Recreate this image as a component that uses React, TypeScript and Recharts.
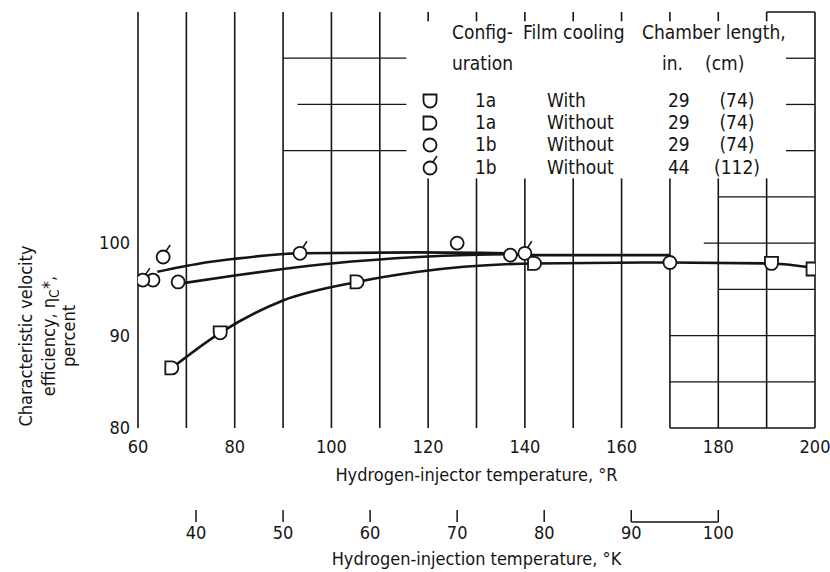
import React from 'react';
import {
  ComposedChart,
  Line,
  Scatter,
  XAxis,
  YAxis,
  ReferenceLine
} from 'recharts';

const FONT = "'Liberation Sans Narrow', 'DejaVu Sans Condensed', 'Arial Narrow', sans-serif";
const INK = '#151515';
const R_PER_K = 1.8;

// axis values
const rDomain = [60, 200];
const yDomain = [80, 125];
const rTicks = [60, 80, 100, 120, 140, 160, 180, 200];
const yTicks = [80, 90, 100];
const kTicks = [40, 50, 60, 70, 80, 90, 100];

// faired curves
const curveTop = [
  { x: 64, y: 96.9 },
  { x: 72.8, y: 97.8 },
  { x: 80, y: 98.3 },
  { x: 93.5, y: 98.9 },
  { x: 118, y: 99.0 },
  { x: 137, y: 98.9 }
];
const curveMid = [
  { x: 69.7, y: 95.7 },
  { x: 80, y: 96.5 },
  { x: 90, y: 97.2 },
  { x: 100, y: 97.8 },
  { x: 118, y: 98.5 },
  { x: 137, y: 98.8 },
  { x: 141, y: 98.7 },
  { x: 170, y: 98.7 }
];
const curveLow = [
  { x: 67, y: 86.5 },
  { x: 77, y: 90.3 },
  { x: 90, y: 93.8 },
  { x: 105.3, y: 95.8 },
  { x: 118, y: 96.9 },
  { x: 142, y: 97.8 },
  { x: 170, y: 97.9 },
  { x: 191, y: 97.8 },
  { x: 200, y: 97.3 }
];

// data points
const cfg1aWith = [
  { x: 77, y: 90.3 },
  { x: 191, y: 97.8 }
];
const cfg1aWithout = [
  { x: 67, y: 86.5 },
  { x: 105.3, y: 95.8 },
  { x: 142, y: 97.8 },
  { x: 199.6, y: 97.2 }
];
const cfg1b29 = [
  { x: 63.1, y: 96.0 },
  { x: 68.3, y: 95.8 },
  { x: 126, y: 100.0 },
  { x: 137, y: 98.7 },
  { x: 170, y: 97.9 }
];
const cfg1b44 = [
  { x: 61, y: 96.0 },
  { x: 65.2, y: 98.5 },
  { x: 93.5, y: 98.9 },
  { x: 140, y: 98.9 }
];

// grid of the original sheet (partly broken by the key)
const fullVerticals = [60, 70, 80, 90, 100, 110, 200];
const brokenVerticals = [120, 130, 140, 150, 160, 170, 180, 190];
const keyGap = [107, 124];
const hSegments: [number, number, number][] = [
  [120, 90, 115.5],
  [115, 93, 115.5],
  [110, 90, 115.5],
  [120, 194, 200],
  [115, 194, 200],
  [110, 194, 200],
  [105, 180, 200],
  [100, 177, 200],
  [95, 180, 200],
  [90, 170, 200],
  [85, 170, 200],
  [80, 170, 200],
  [125, 190, 200]
];

const keyRows = [
  { mark: 'U', config: '1a', film: 'With', inch: '29', cm: '(74)' },
  { mark: 'D', config: '1a', film: 'Without', inch: '29', cm: '(74)' },
  { mark: 'O', config: '1b', film: 'Without', inch: '29', cm: '(74)' },
  { mark: 'Q', config: '1b', film: 'Without', inch: '44', cm: '(112)' }
];

const W = 830;
const H = 572;
const margin = { top: 12, right: 15, bottom: 0, left: 0 };
const Y_AXIS_W = 138;
const plotW = W - margin.left - margin.right - Y_AXIS_W;
const kPerPx = plotW / ((rDomain[1] - rDomain[0]) / R_PER_K);

// kelvin scale anchors, so the second axis has something to scale on
const kAnchors = kTicks.map((k) => ({ k, y: yDomain[0] }));

const R = 6.5;
const Circ = ({ cx, cy }: any) => (
  <circle cx={cx} cy={cy} r={R} fill="#fff" stroke={INK} strokeWidth={1.8} />
);
const Tailed = ({ cx, cy }: any) => (
  <g>
    <circle cx={cx} cy={cy} r={R} fill="#fff" stroke={INK} strokeWidth={1.8} />
    <line x1={cx + 3} y1={cy - 6} x2={cx + 7} y2={cy - 12} stroke={INK} strokeWidth={1.5} />
  </g>
);
const DMark = ({ cx, cy }: any) => (
  <path
    d={`M${cx - R},${cy - R} H${cx} A${R},${R} 0 0 1 ${cx},${cy + R} H${cx - R} Z`}
    fill="#fff"
    stroke={INK}
    strokeWidth={1.8}
  />
);
const UMark = ({ cx, cy }: any) => (
  <path
    d={`M${cx - R},${cy - R} H${cx + R} V${cy} A${R},${R} 0 0 1 ${cx - R},${cy} Z`}
    fill="#fff"
    stroke={INK}
    strokeWidth={1.8}
  />
);

const markFor: Record<string, (p: any) => React.ReactElement> = {
  U: UMark,
  D: DMark,
  O: Circ,
  Q: Tailed
};

const RTick = ({ x, y, payload }: any) => (
  <text x={x} y={y + 25} textAnchor="middle" fontFamily={FONT} fontSize={18} fill={INK}>
    {payload.value}
  </text>
);

const KTick = ({ x, y, payload }: any) => (
  <g>
    <line x1={x} x2={x} y1={y + 10} y2={y + 22} stroke={INK} strokeWidth={1.5} />
    {payload.value === 90 && (
      <line x1={x} x2={x + 10 * kPerPx} y1={y + 22} y2={y + 22} stroke={INK} strokeWidth={1.5} />
    )}
    <text x={x} y={y + 39} textAnchor="middle" fontFamily={FONT} fontSize={18} fill={INK}>
      {payload.value}
    </text>
  </g>
);

const YTick = ({ x, y, payload }: any) => (
  <text x={x} y={y + 6} textAnchor="end" fontFamily={FONT} fontSize={18} fill={INK}>
    {payload.value}
  </text>
);

const YTitle = () => (
  <g fontFamily={FONT} fontSize={18} fill={INK} textAnchor="middle">
    <text transform="translate(32,336) rotate(-90)">Characteristic velocity</text>
    <text transform="translate(55,336) rotate(-90)">
      efficiency, η
      <tspan fontSize={14} dy={4}>C</tspan>
      <tspan dy={-4}>*,</tspan>
    </text>
    <text transform="translate(75,336) rotate(-90)">percent</text>
  </g>
);

const axisTitle = (text: string, dy: number) => (props: any) => {
  const vb = props.viewBox;
  return (
    <text
      x={vb.x + vb.width / 2}
      y={vb.y + dy}
      textAnchor="middle"
      fontFamily={FONT}
      fontSize={18}
      fill={INK}
    >
      {text}
    </text>
  );
};

const gridLine = { stroke: INK, strokeWidth: 1.6, ifOverflow: 'visible' as const };
const curveStyle = { stroke: INK, strokeWidth: 2.6, dot: false, isAnimationActive: false };

const keyText: React.CSSProperties = {
  position: 'absolute',
  fontFamily: FONT,
  fontSize: 19,
  color: INK,
  lineHeight: 1,
  whiteSpace: 'nowrap',
  transform: 'translateY(-50%)'
};

function Key() {
  const rowY = [100, 122, 144, 167];
  return (
    <>
      <span style={{ ...keyText, left: 452, top: 32 }}>Config-</span>
      <span style={{ ...keyText, left: 452, top: 63 }}>uration</span>
      <span style={{ ...keyText, left: 523, top: 32 }}>Film cooling</span>
      <span style={{ ...keyText, left: 642, top: 32 }}>Chamber length,</span>
      <span style={{ ...keyText, left: 662, top: 63 }}>in.</span>
      <span style={{ ...keyText, left: 705, top: 63 }}>(cm)</span>
      {keyRows.map((row, i) => {
        const Mark = markFor[row.mark];
        return (
          <React.Fragment key={i}>
            <svg
              width={24}
              height={30}
              style={{ position: 'absolute', left: 418, top: rowY[i] - 15 }}
            >
              <Mark cx={12} cy={16} />
            </svg>
            <span style={{ ...keyText, left: 475, top: rowY[i] }}>{row.config}</span>
            <span style={{ ...keyText, left: 547, top: rowY[i] }}>{row.film}</span>
            <span style={{ ...keyText, left: 668, top: rowY[i] }}>{row.inch}</span>
            <span style={{ ...keyText, left: 737, top: rowY[i], transform: 'translate(-50%,-50%)' }}>
              {row.cm}
            </span>
          </React.Fragment>
        );
      })}
    </>
  );
}

export default function App() {
  return (
    <div style={{ position: 'absolute', left: 0, top: 0, width: W, height: H, background: '#fff' }}>
      <ComposedChart width={W} height={H} margin={margin}>
        <XAxis
          xAxisId={0}
          dataKey="x"
          type="number"
          domain={rDomain}
          ticks={rTicks}
          interval={0}
          allowDataOverflow
          axisLine={false}
          tickLine={false}
          tickSize={0}
          tickMargin={0}
          height={72}
          tick={(p: any) => <RTick {...p} />}
          label={{ content: axisTitle('Hydrogen-injector temperature, °R', 53) }}
        />
        <XAxis
          xAxisId={1}
          dataKey="k"
          type="number"
          domain={[rDomain[0] / R_PER_K, rDomain[1] / R_PER_K]}
          ticks={kTicks}
          interval={0}
          allowDataOverflow
          axisLine={false}
          tickLine={false}
          tickSize={0}
          tickMargin={0}
          height={72}
          tick={(p: any) => <KTick {...p} />}
          label={{ content: axisTitle('Hydrogen-injection temperature, °K', 65) }}
        />
        <YAxis
          type="number"
          domain={yDomain}
          ticks={yTicks}
          interval={0}
          allowDataOverflow
          axisLine={false}
          tickLine={false}
          width={Y_AXIS_W}
          tick={(p: any) => <YTick {...p} />}
          label={{ content: () => <YTitle /> }}
        />

        {fullVerticals.map((v) => (
          <ReferenceLine key={'fv' + v} xAxisId={0} x={v} {...gridLine} />
        ))}
        {brokenVerticals.map((v) => (
          <ReferenceLine
            key={'bv' + v}
            xAxisId={0}
            segment={[{ x: v, y: yDomain[0] }, { x: v, y: keyGap[0] }]}
            {...gridLine}
          />
        ))}
        {brokenVerticals.map((v) => (
          <ReferenceLine
            key={'bt' + v}
            xAxisId={0}
            segment={[{ x: v, y: keyGap[1] }, { x: v, y: yDomain[1] }]}
            {...gridLine}
          />
        ))}
        {hSegments.map(([y, a, b], i) => (
          <ReferenceLine
            key={'h' + i}
            xAxisId={0}
            segment={[{ x: a, y }, { x: b, y }]}
            stroke={INK}
            strokeWidth={1.3}
            ifOverflow="visible"
          />
        ))}

        <Line xAxisId={0} data={curveTop} dataKey="y" type="monotone" {...curveStyle} />
        <Line xAxisId={0} data={curveMid} dataKey="y" type="monotone" {...curveStyle} />
        <Line xAxisId={0} data={curveLow} dataKey="y" type="monotone" {...curveStyle} />

        <Scatter xAxisId={1} data={kAnchors} dataKey="y" shape={() => <g />} isAnimationActive={false} />

        <Scatter xAxisId={0} data={cfg1aWith} dataKey="y" shape={UMark} isAnimationActive={false} />
        <Scatter xAxisId={0} data={cfg1aWithout} dataKey="y" shape={DMark} isAnimationActive={false} />
        <Scatter xAxisId={0} data={cfg1b29} dataKey="y" shape={Circ} isAnimationActive={false} />
        <Scatter xAxisId={0} data={cfg1b44} dataKey="y" shape={Tailed} isAnimationActive={false} />
      </ComposedChart>
      <Key />
    </div>
  );
}
